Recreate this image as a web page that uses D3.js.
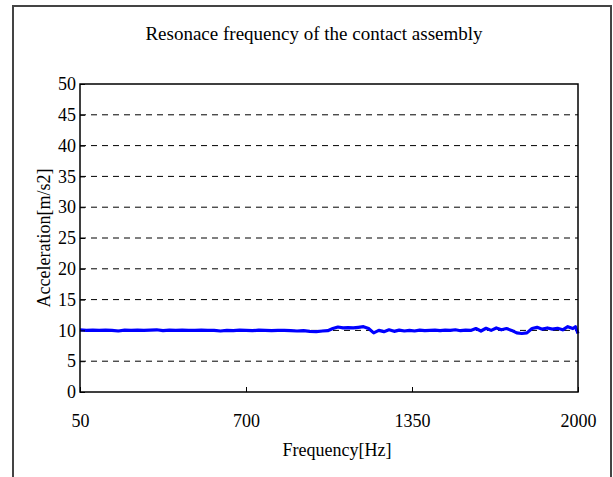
<!DOCTYPE html>
<html lang="en">
<head>
<meta charset="utf-8">
<script src="https://cdn.jsdelivr.net/npm/d3@7"></script>
<title>Resonace frequency of the contact assembly</title>
<style>
  body { margin: 0; background: #fff; }
  text { font-family: "Liberation Serif", "Times New Roman", serif; fill: #000; }
  .grid line { stroke: #000; stroke-dasharray: 6,5; stroke-width: 1; }
</style>
</head>
<body>
<div id="chart"></div>
<script>
// frequency [Hz]
var freqs = [50,75,100,125,150,175,200,225,250,275,300,325,350,375,400,425,450,475,500,525,
  550,575,600,625,650,675,700,725,750,775,800,825,850,875,900,925,950,975,
  1000,1020,1040,1060,1080,1100,1120,1140,1160,1180,1200,1220,1240,1260,1280,1300,1320,1340,1360,1380,
  1400,1420,1440,1460,1480,1500,1520,1540,1560,1580,1600,1620,1640,1660,1680,1700,1720,1740,1760,1780,
  1800,1820,1840,1860,1880,1900,1920,1940,1960,1980,1990,2000];
// acceleration [m/s2]
var accel = [10.1,10.0,10.05,10.0,10.05,10.0,9.9,10.05,10.0,10.05,10.0,10.05,10.1,9.95,10.05,10.0,10.05,10.0,10.0,10.05,
  10.0,10.0,9.9,10.0,9.95,10.05,10.0,9.95,10.05,10.0,9.95,10.0,10.0,9.95,9.9,9.95,9.85,9.8,
  9.9,9.95,10.3,10.55,10.4,10.45,10.4,10.5,10.6,10.3,9.6,10.0,9.8,10.1,9.85,10.05,9.9,10.0,9.9,10.05,
  9.95,10.0,10.05,9.95,10.05,10.0,10.1,9.95,10.05,10.0,10.3,9.9,10.35,10.0,10.4,10.1,10.3,10.0,9.6,9.5,
  9.6,10.3,10.5,10.2,10.4,10.2,10.35,10.1,10.6,10.3,10.6,9.5];
var xTicks = [50, 700, 1350, 2000];
var yTicks = [0,5,10,15,20,25,30,35,40,45,50];

var W = 613, H = 477;
var m = {left: 80, right: 578, top: 84, bottom: 392};

var svg = d3.select("#chart").append("svg")
  .attr("width", W).attr("height", H);

// outer chart frame
svg.append("rect")
  .attr("x", 13).attr("y", 6).attr("width", 598).attr("height", H)
  .attr("fill", "none").attr("stroke", "#444").attr("stroke-width", 2);

var x = d3.scaleLinear().domain([50, 2000]).range([m.left, m.right]);
var y = d3.scaleLinear().domain([0, 50]).range([m.bottom, m.top]);

// dashed gridlines
svg.append("g").attr("class", "grid")
  .selectAll("line")
  .data(yTicks.filter(function(d){ return d > 0 && d < 50; }))
  .enter().append("line")
  .attr("x1", m.left).attr("x2", m.right)
  .attr("y1", function(d){ return y(d); })
  .attr("y2", function(d){ return y(d); });

// data line
var line = d3.line()
  .x(function(d,i){ return x(freqs[i]); })
  .y(function(d){ return y(d); });

svg.append("path")
  .datum(accel)
  .attr("d", line)
  .attr("fill", "none")
  .attr("stroke", "#0000ff")
  .attr("stroke-width", 3.2)
  .attr("stroke-linejoin", "round");

// plot box
svg.append("rect")
  .attr("x", m.left).attr("y", m.top)
  .attr("width", m.right - m.left).attr("height", m.bottom - m.top)
  .attr("fill", "none").attr("stroke", "#000").attr("stroke-width", 1.5);

// y axis, ticks pointing in
var yAxis = svg.append("g")
  .attr("transform", "translate(" + m.left + ",0)")
  .call(d3.axisLeft(y).tickValues(yTicks).tickFormat(d3.format("d")).tickSize(-5).tickPadding(4));
yAxis.select(".domain").remove();
yAxis.selectAll("text").style("font-size", "18px").attr("font-family", null);

// x axis, ticks pointing in
var xAxis = svg.append("g")
  .attr("transform", "translate(0," + m.bottom + ")")
  .call(d3.axisBottom(x).tickValues(xTicks).tickFormat(d3.format("d")).tickSize(-5).tickPadding(22));
xAxis.select(".domain").remove();
xAxis.selectAll("text").style("font-size", "18px").attr("font-family", null);

svg.append("text")
  .attr("x", 314).attr("y", 40)
  .attr("text-anchor", "middle")
  .style("font-size", "19px")
  .text("Resonace frequency of the contact assembly");

svg.append("text")
  .attr("x", 337).attr("y", 456)
  .attr("text-anchor", "middle")
  .style("font-size", "18px")
  .text("Frequency[Hz]");

svg.append("text")
  .attr("transform", "translate(50,238) rotate(-90)")
  .attr("text-anchor", "middle")
  .style("font-size", "18px")
  .text("Acceleration[m/s2]");
</script>
</body>
</html>
